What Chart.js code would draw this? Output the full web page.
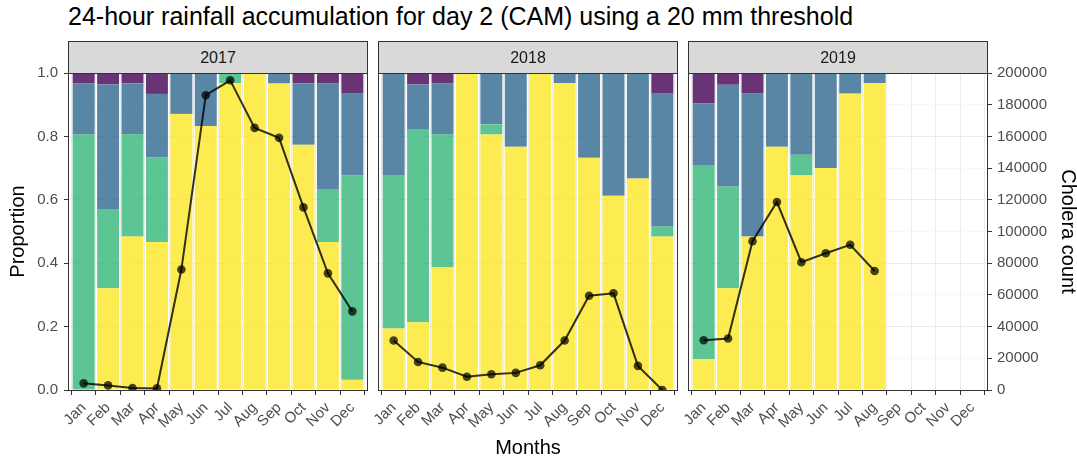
<!DOCTYPE html>
<html>
<head>
<meta charset="utf-8">
<script src="https://cdn.jsdelivr.net/npm/chart.js@4.4.1/dist/chart.umd.min.js"></script>
<style>
  body { margin: 0; background: #fff; font-family: "Liberation Sans", Arial, sans-serif; }
  #lienzo { position: relative; width: 1077px; height: 461px; overflow: hidden; }
  #lienzo canvas { position: absolute; top: 58px; }
  .titulo { position: absolute; left: 68px; top: 4px; font-size: 25px; line-height: 1; color: #000; white-space: nowrap; }
  .tira { position: absolute; top: 41px; height: 33px; box-sizing: border-box; background: #d9d9d9; border: 1px solid #333;
          color: #1a1a1a; font-size: 16px; line-height: 31px; text-align: center; }
  .ejeX { position: absolute; left: 0; width: 1056px; top: 436px; text-align: center; font-size: 20px; color: #000; }
</style>
</head>
<body>
<div id="lienzo">
  <canvas id="g2017" width="372" height="403" style="left:0px"></canvas>
  <canvas id="g2018" width="343" height="403" style="left:339px"></canvas>
  <canvas id="g2019" width="431" height="403" style="left:649px"></canvas>
  <div class="titulo">24-hour rainfall accumulation for day 2 (CAM) using a 20 mm threshold</div>
  <div class="tira" style="left:68px;width:300px">2017</div>
  <div class="tira" style="left:378px;width:300px">2018</div>
  <div class="tira" style="left:688px;width:300px">2019</div>
  <div class="ejeX">Months</div>
</div>
<script>
const meses = ["Jan", "Feb", "Mar", "Apr", "May", "Jun", "Jul", "Aug", "Sep", "Oct", "Nov", "Dec"];
const anios = ["2017", "2018", "2019"];

// proporcion de dias por clase de lluvia (de abajo hacia arriba: amarillo, verde, azul, morado)
const amarillo2017 = [0, 0.321, 0.484, 0.467, 0.871, 0.833, 0.968, 1, 0.967, 0.774, 0.467, 0.032];
const verde2017    = [0.806, 0.25, 0.323, 0.267, 0, 0, 0.032, 0, 0, 0, 0.167, 0.645];
const azul2017     = [0.161, 0.393, 0.161, 0.2, 0.129, 0.167, 0, 0, 0.033, 0.194, 0.333, 0.258];
const morado2017   = [0.032, 0.036, 0.032, 0.067, 0, 0, 0, 0, 0, 0.032, 0.033, 0.065];

const amarillo2018 = [0.194, 0.214, 0.387, 1, 0.806, 0.767, 1, 0.968, 0.733, 0.613, 0.667, 0.484];
const verde2018    = [0.484, 0.607, 0.419, 0, 0.032, 0, 0, 0, 0, 0, 0, 0.032];
const azul2018     = [0.323, 0.143, 0.161, 0, 0.161, 0.233, 0, 0.032, 0.267, 0.387, 0.333, 0.419];
const morado2018   = [0, 0.036, 0.032, 0, 0, 0, 0, 0, 0, 0, 0, 0.065];

const amarillo2019 = [0.097, 0.321, 0.484, 0.767, 0.677, 0.7, 0.935, 0.968, null, null, null, null];
const verde2019    = [0.613, 0.321, 0, 0, 0.065, 0, 0, 0, null, null, null, null];
const azul2019     = [0.194, 0.321, 0.452, 0.233, 0.258, 0.3, 0.065, 0.032, null, null, null, null];
const morado2019   = [0.097, 0.036, 0.065, 0, 0, 0, 0, 0, null, null, null, null];

// casos de colera por mes
const colera2017 = [4200, 2900, 1300, 1000, 76000, 186000, 195400, 165400, 159100, 115200, 73600, 49600];
const colera2018 = [31200, 17700, 14100, 8400, 9900, 10800, 15600, 31200, 59500, 61000, 15200, 0];
const colera2019 = [31400, 32500, 93900, 118600, 80600, 86300, 91600, 75100];

const datosAnio = {
  "2017": [amarillo2017, verde2017, azul2017, morado2017, colera2017],
  "2018": [amarillo2018, verde2018, azul2018, morado2018, colera2018],
  "2019": [amarillo2019, verde2019, azul2019, morado2019, colera2019]
};

const colores = ["rgba(253,231,37,0.8)", "rgba(53,183,121,0.8)", "rgba(49,104,142,0.8)", "rgba(68,1,84,0.8)"];
const gris = "#4d4d4d";
const fuente = "'Liberation Sans', Arial, sans-serif";

const borde = {
  id: "borde",
  afterDatasetsDraw(chart) {
    const { ctx, chartArea: a } = chart;
    ctx.save();
    ctx.strokeStyle = "#333";
    ctx.lineWidth = 1;
    ctx.strokeRect(a.left - 0.5, a.top - 0.5, a.right - a.left + 1, a.bottom - a.top + 1);
    ctx.restore();
  }
};

const esMayor = v => Math.round(v * 10) % 2 === 0;
const puntos = serie => serie.map((v, i) => ({ x: i + 1, y: v }));

function armarGrafico(anio, ejeIzq, ejeDer, relleno) {
  const [am, ve, az, mo, col] = datosAnio[anio];
  const barras = [am, ve, az, mo].map((serie, k) => ({
    type: "bar",
    data: puntos(serie),
    backgroundColor: colores[k],
    borderWidth: 0,
    barPercentage: 0.9,
    categoryPercentage: 1,
    order: 1,
    yAxisID: "y"
  }));
  const linea = {
    type: "line",
    data: puntos(col),
    yAxisID: "y2",
    borderColor: "rgba(0,0,0,0.8)",
    borderWidth: 2,
    pointRadius: 4.3,
    pointBackgroundColor: "rgba(0,0,0,0.72)",
    pointBorderWidth: 0,
    tension: 0,
    order: 0
  };

  new Chart(document.getElementById("g" + anio), {
    type: "bar",
    data: { datasets: [...barras, linea] },
    options: {
      responsive: false,
      animation: false,
      events: [],
      devicePixelRatio: 1,
      layout: { padding: relleno },
      plugins: { legend: { display: false }, tooltip: { enabled: false } },
      scales: {
        x: {
          type: "linear", min: 0.4, max: 12.6, stacked: true, offset: false,
          ticks: {
            stepSize: 1, includeBounds: false, autoSkip: false, minRotation: 45, maxRotation: 45,
            color: gris, font: { family: fuente, size: 15 }, padding: 4,
            callback: v => meses[Math.round(v) - 1]
          },
          grid: { color: "#ebebeb", lineWidth: 1, tickColor: "#333", tickLength: 5 },
          border: { display: false },
          afterFit: s => { s.height = 71; s.paddingLeft = 0; s.paddingRight = 0; }
        },
        y: {
          min: 0, max: 1, stacked: true,
          ticks: {
            stepSize: 0.1, display: ejeIzq, color: gris, font: { family: fuente, size: 15 }, padding: 6,
            callback: v => esMayor(v) ? v.toFixed(1) : ""
          },
          grid: {
            color: c => (c.tick && esMayor(c.tick.value)) ? "#ebebeb" : "#f4f4f4",
            lineWidth: c => (c.tick && esMayor(c.tick.value)) ? 1 : 0.6,
            tickColor: c => (ejeIzq && c.tick && esMayor(c.tick.value)) ? "#333" : "rgba(0,0,0,0)",
            tickLength: 5,
            drawTicks: ejeIzq
          },
          border: { display: false },
          title: { display: ejeIzq, text: "Proportion", color: "#000", font: { family: fuente, size: 20 }, padding: { top: 6, bottom: 0 } },
          afterFit: s => { s.width = ejeIzq ? 69 : 0; s.paddingTop = 0; s.paddingBottom = 0; }
        },
        y2: {
          position: "right", min: 0, max: 200000, display: ejeDer,
          ticks: { stepSize: 20000, color: gris, font: { family: fuente, size: 15 }, padding: 5, callback: v => String(v) },
          grid: { drawOnChartArea: false, tickColor: "#333", tickLength: 5 },
          border: { display: false },
          title: { display: ejeDer, text: "Cholera count", color: "#000", font: { family: fuente, size: 20 }, padding: { top: 0, bottom: 0 } },
          afterFit: s => { if (ejeDer) s.width = 93; s.paddingTop = 0; s.paddingBottom = 0; }
        }
      }
    },
    plugins: [borde]
  });
}

armarGrafico("2017", true, false, { top: 15, right: 5, left: 0, bottom: 0 });
armarGrafico("2018", false, false, { top: 15, right: 5, left: 40, bottom: 0 });
armarGrafico("2019", false, true, { top: 15, right: 0, left: 40, bottom: 0 });
</script>
</body>
</html>
